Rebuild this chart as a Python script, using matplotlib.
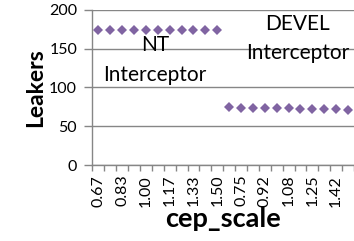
import numpy as np
import matplotlib
matplotlib.use("Agg")
import matplotlib.pyplot as plt

plt.rcParams['font.family'] = ['Lato', 'DejaVu Sans']

# categories: cep_scale for each interceptor, one after another
scales = ["0.67", "0.75", "0.83", "0.92", "1.00", "1.08",
          "1.17", "1.25", "1.33", "1.42", "1.50"]
nt_leakers = [174, 174, 174, 174, 174, 174, 174, 174, 174, 174, 174]
devel_leakers = [75, 74, 74, 73, 73, 73, 72, 72, 72, 72, 71]

labels = scales + scales
values = nt_leakers + devel_leakers
x = np.arange(len(labels))

purple = "#8064A2"
grey = "#868686"

fig = plt.figure(figsize=(3.54, 2.41), dpi=100)
ax = fig.add_axes([0.261, 0.315, 0.739, 0.645])

ax.plot(x, values, linestyle="none", marker="D", markersize=5.5,
        color=purple, markeredgewidth=0, clip_on=False, zorder=3)

ax.set_xlim(-0.5, len(labels) - 0.5)
ax.set_ylim(0, 200)
ax.set_yticks([0, 50, 100, 150, 200])
ax.yaxis.grid(True, color=grey, linewidth=1)
ax.set_axisbelow(True)

# labels on every other category, tick marks on the boundaries
ax.set_xticks(x[::2])
ax.set_xticklabels(labels[::2], rotation=90)
ax.set_xticks(np.arange(-0.5, len(labels)), minor=True)
ax.tick_params(axis="x", which="major", length=0, pad=7, labelsize=11.5)
ax.tick_params(axis="x", which="minor", length=4, color=grey, width=1)
ax.tick_params(axis="y", length=6, color=grey, width=1, pad=5, labelsize=11.5)

for side in ["top", "right"]:
    ax.spines[side].set_visible(False)
for side in ["left", "bottom"]:
    ax.spines[side].set_color(grey)
    ax.spines[side].set_linewidth(1)

ax.set_ylabel("Leakers", fontsize=16.5, fontweight="bold", labelpad=2)
ax.set_xlabel("cep_scale", fontsize=19.5, fontweight="bold", labelpad=0)

ax.text(4.74, 135, "NT\nInterceptor", ha="center", va="center",
        fontsize=15, linespacing=1.6)
ax.text(16.74, 163, "DEVEL\nInterceptor", ha="center", va="center",
        fontsize=15, linespacing=1.6)

fig.savefig("out.png", dpi=100)
